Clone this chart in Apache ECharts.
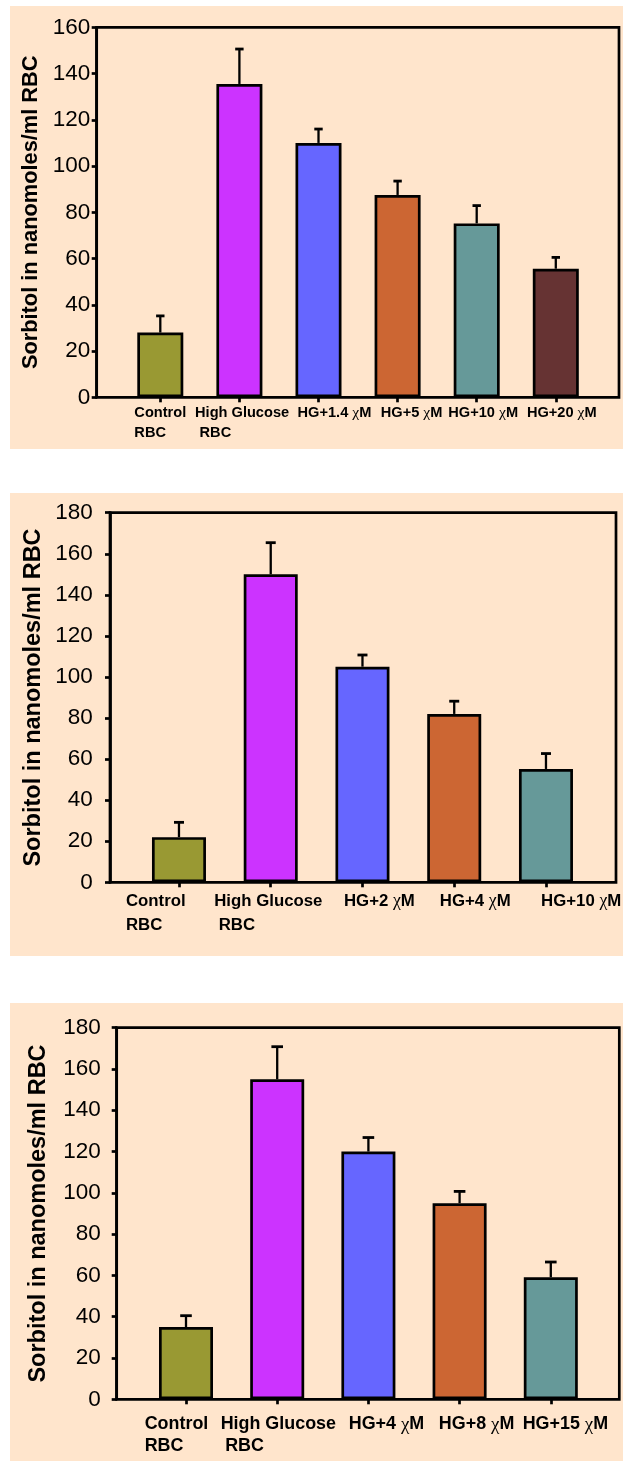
<!DOCTYPE html>
<html><head><meta charset="utf-8">
<script src="https://cdn.jsdelivr.net/npm/echarts@6/dist/echarts.min.js"></script>
<style>
html,body{margin:0;padding:0;background:#fff;}
#wrap{position:relative;width:623px;height:1461px;}
.bg{position:absolute;background:#FFE5CC;}
#c{position:absolute;left:0;top:0;width:623px;height:1461px;}
</style>
</head><body>
<div id="wrap">
<div class="bg" style="left:10px;top:6px;width:613px;height:443px"></div>
<div class="bg" style="left:10px;top:493px;width:613px;height:463px"></div>
<div class="bg" style="left:10px;top:1003px;width:613px;height:458px"></div>
<div id="c"></div>
</div>
<script>
// ---------- data ----------
const yName = 'Sorbitol in nanomoles/ml RBC';

const categories1 = ['Control\nRBC', 'High Glucose\nRBC', 'HG+1.4 χM', 'HG+5 χM', 'HG+10 χM', 'HG+20 χM'];
const values1 = [28, 135.5, 110, 87.5, 75.2, 55.6];
const errors1 = [7.2, 15.1, 6, 6, 7.7, 4.9];
const colors1 = ['#999933', '#CC33FF', '#6666FF', '#CC6633', '#669999', '#663333'];
const yMax1 = 160;

const categories2 = ['Control\nRBC', 'High Glucose\nRBC', 'HG+2 χM', 'HG+4 χM', 'HG+10 χM'];
const values2 = [22, 150, 105, 82, 55.2];
const errors2 = [7.2, 15.4, 5.7, 6.2, 7.5];
const colors2 = ['#999933', '#CC33FF', '#6666FF', '#CC6633', '#669999'];
const yMax2 = 180;

const categories3 = ['Control\nRBC', 'High Glucose\nRBC', 'HG+4 χM', 'HG+8 χM', 'HG+15 χM'];
const values3 = [35, 155, 120, 95, 59.1];
const errors3 = [5.5, 15.8, 6.8, 5.7, 7.4];
const colors3 = ['#999933', '#CC33FF', '#6666FF', '#CC6633', '#669999'];
const yMax3 = 180;

const yInterval = 20;

// ---------- layout / style ----------
const W = 623, H = 1461;
const panels = [
  { cats: categories1, vals: values1, errs: errors1, cols: colors1, yMax: yMax1,
    frame: { l: 96.7, t: 27.3, r: 619, b: 397.3 }, bars: { l: 120.75, w: 474.6 },
    nameFs: 21.8, nameGap: 55, tickFs: 22.5, tickMargin: 6.5,
    labFs: 14.6, labLH: 20, labMargin: 5.2,
    shift: [0, 2.7, 16, 14, 6.5, 6], indent: [0, 4.5, 0, 0, 0, 0], barW: 46, cap: 4.2 },
  { cats: categories2, vals: values2, errs: errors2, cols: colors2, yMax: yMax2,
    frame: { l: 110, t: 512.7, r: 616, b: 882.3 }, bars: { l: 133.1, w: 458.75 },
    nameFs: 23.5, nameGap: 64.5, tickFs: 22.5, tickMargin: 17.2,
    labFs: 16.8, labLH: 24.3, labMargin: 6.5,
    shift: [-23.2, -2.4, 16.9, 21, 35.2], indent: [0, 4.5, 0, 0, 0], barW: 54, cap: 5 },
  { cats: categories3, vals: values3, errs: errors3, cols: colors3, yMax: yMax3,
    frame: { l: 116.7, t: 1027.7, r: 619.3, b: 1399.3 }, bars: { l: 140.4, w: 456 },
    nameFs: 23.5, nameGap: 66.2, tickFs: 22.5, tickMargin: 16,
    labFs: 17.9, labLH: 21.7, labMargin: 14.4,
    shift: [-9.5, 1.1, 18.1, 17, 14.6], indent: [0, 4.5, 0, 0, 0], barW: 54, cap: 5.8 }
];

const SANS = 'Liberation Sans, Arial, Helvetica, sans-serif';
const SERIF = 'Liberation Serif, Times New Roman, serif';
const LW = 2.7;

const grid = [], xAxis = [], yAxis = [], series = [];

panels.forEach((p, k) => {
  const gF = 2 * k, gB = 2 * k + 1;
  grid.push({ left: p.frame.l, top: p.frame.t, right: W - p.frame.r, bottom: H - p.frame.b,
    show: true, borderColor: '#000', borderWidth: LW, backgroundColor: 'transparent',
    containLabel: false, outerBoundsMode: 'none' });
  grid.push({ left: p.bars.l, width: p.bars.w, top: p.frame.t, bottom: H - p.frame.b,
    containLabel: false, outerBoundsMode: 'none' });

  // frame axes
  xAxis.push({ gridIndex: gF, type: 'value', min: 0, max: 1, show: false });
  yAxis.push({ gridIndex: gF, type: 'value', min: 0, max: p.yMax, interval: yInterval,
    axisLine: { show: true, lineStyle: { color: '#000', width: LW } },
    axisTick: { show: true, inside: false, length: 5, lineStyle: { color: '#000', width: LW } },
    splitLine: { show: false },
    axisLabel: { color: '#000', fontFamily: SANS, fontSize: p.tickFs, margin: p.tickMargin },
    name: yName, nameLocation: 'middle', nameGap: p.nameGap, nameMoveOverlap: false,
    nameTextStyle: { color: '#000', fontFamily: SANS, fontWeight: 'bold', fontSize: p.nameFs } });

  // rich label styles (lines left-aligned inside the label block)
  const rich = {
    b: { align: 'left', fontFamily: SANS, fontWeight: 'bold', fontSize: p.labFs, lineHeight: p.labLH, color: '#000' },
    c: { align: 'left', fontFamily: SERIF, fontWeight: 'normal', fontSize: p.labFs + 1, lineHeight: p.labLH, color: '#000' }
  };
  p.cats.forEach((c, i) => {
    const s = p.shift[i];
    rich['L' + i] = { align: 'left', width: Math.max(0, 2 * s), fontSize: p.labFs, lineHeight: p.labLH };
    rich['R' + i] = { align: 'left', width: Math.max(0, -2 * s), fontSize: p.labFs, lineHeight: p.labLH };
    rich['I' + i] = { align: 'left', width: p.indent[i], fontSize: p.labFs, lineHeight: p.labLH };
  });
  const fmt = (val, idx) => {
    const s = p.shift[idx];
    return val.split('\n').map((line, li) => {
      let out = '';
      if (s > 0) out += '{L' + idx + '|\u00a0}';
      if (li > 0 && p.indent[idx] > 0) out += '{I' + idx + '|\u00a0}';
      out += line.split('χ').map(t => t ? '{b|' + t + '}' : '').join('{c|χ}');
      if (s < 0) out += '{R' + idx + '|\u00a0}';
      return out;
    }).join('\n');
  };

  xAxis.push({ gridIndex: gB, type: 'category', data: p.cats, boundaryGap: true,
    axisLine: { show: false },
    axisTick: { show: true, alignWithLabel: true, inside: false, length: 5, lineStyle: { color: '#000', width: LW } },
    splitLine: { show: false },
    axisLabel: { interval: 0, hideOverlap: false, margin: p.labMargin, formatter: fmt, rich: rich,
      color: '#000', fontFamily: SANS, fontWeight: 'bold', fontSize: p.labFs, lineHeight: p.labLH } });
  yAxis.push({ gridIndex: gB, type: 'value', min: 0, max: p.yMax, interval: yInterval, show: false });

  series.push({ type: 'bar', xAxisIndex: gB, yAxisIndex: gB, barWidth: p.barW, z: 3,
    data: p.vals.map((v, i) => ({ value: v, itemStyle: { color: p.cols[i] } })),
    itemStyle: { borderColor: '#000', borderWidth: LW }, emphasis: { disabled: true }, silent: true });

  const cap = p.cap;
  series.push({ type: 'custom', xAxisIndex: gB, yAxisIndex: gB, z: 4, silent: true,
    data: p.vals.map((v, i) => [i, v, p.errs[i]]),
    encode: { x: 0, y: 1 },
    renderItem: (params, api) => {
      const x = api.value(0), v = api.value(1), e = api.value(2);
      const a = api.coord([x, v]), b = api.coord([x, v + e]);
      return { type: 'group', children: [
        { type: 'line', shape: { x1: a[0], y1: a[1], x2: b[0], y2: b[1] }, style: { stroke: '#000', lineWidth: 2.3 } },
        { type: 'line', shape: { x1: b[0] - cap, y1: b[1], x2: b[0] + cap, y2: b[1] }, style: { stroke: '#000', lineWidth: 2.8 } }
      ] };
    } });
});

const chart = echarts.init(document.getElementById('c'), null, { renderer: 'canvas', width: W, height: H });
chart.setOption({ animation: false, backgroundColor: 'transparent', grid, xAxis, yAxis, series });
</script>
</body></html>
